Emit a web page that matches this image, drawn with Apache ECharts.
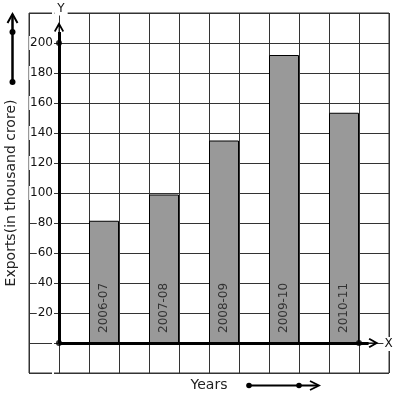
<!DOCTYPE html>
<html>
<head>
<meta charset="utf-8">
<script src="https://cdn.jsdelivr.net/npm/echarts@6/dist/echarts.min.js"></script>
<style>
  html, body { margin: 0; padding: 0; background: #fff; }
  #chart { width: 397px; height: 399px; }
</style>
</head>
<body>
<div id="chart"></div>
<script>
// data
const years = ['2006-07', '2007-08', '2008-09', '2009-10', '2010-11'];
const exportsValues = [81.5, 99, 135, 192, 153.5];
const yTickLabels = [20, 40, 60, 80, 100, 120, 140, 160, 180, 200];
const axisDots = [[0, 0], [0, 200], [10, 0]];

const font = 'DejaVu Sans';
// open chevron with a thin spine so its tip sits at the end of the axis line
const arrowHead = 'path://M5,0L10,9L8.6,10L5,3.6L1.4,10L0,9ZM4.6,3L5.4,3L5.4,20L4.6,20Z';

const chart = echarts.init(document.getElementById('chart'));

const barData = years.map((y, i) => ({ name: y, value: [1.5 + 2 * i, exportsValues[i]] }));

const option = {
  animation: false,
  backgroundColor: '#fff',
  grid: {
    left: 29, top: 13, width: 360, height: 360,
    show: true, borderColor: '#333', borderWidth: 1,
    outerBoundsMode: 'none'
  },
  xAxis: {
    type: 'value',
    min: -1, max: 11, interval: 1,
    offset: -30, // axis sits one cell above the grid bottom (at y = 0)
    name: 'Years',
    nameLocation: 'middle',
    nameGap: 35,
    nameTextStyle: { fontFamily: font, fontSize: 14, color: '#222' },
    axisLine: { show: false, onZero: false },
    axisTick: { show: false },
    axisLabel: { show: false },
    splitLine: { show: true, lineStyle: { color: '#333', width: 1 } }
  },
  yAxis: {
    type: 'value',
    min: -20, max: 220, interval: 20,
    offset: -30, // axis sits one cell right of the grid left (at x = 0)
    name: 'Exports(in thousand crore)',
    nameLocation: 'middle',
    nameGap: 41,
    nameTextStyle: { fontFamily: font, fontSize: 14, color: '#222' },
    axisLine: { show: false, onZero: false },
    axisTick: { show: false },
    axisLabel: {
      margin: 5,
      fontFamily: font, fontSize: 12, color: '#111',
      backgroundColor: '#fff', padding: [1, 1],
      formatter: v => (yTickLabels.includes(v) ? String(v) : '')
    },
    splitLine: { show: true, lineStyle: { color: '#333', width: 1 } }
  },
  series: [
    {
      type: 'bar',
      barWidth: 30,
      data: barData,
      itemStyle: { color: '#999999', borderColor: '#000', borderWidth: 1 },
      label: {
        show: true,
        position: 'insideBottom',
        distance: 10,
        rotate: 90,
        align: 'left',
        verticalAlign: 'middle',
        formatter: '{b}',
        fontFamily: font, fontSize: 12, color: '#333'
      },
      silent: true
    },
    {
      type: 'scatter',
      data: axisDots,
      symbol: 'circle',
      symbolSize: 6,
      itemStyle: { color: '#000' },
      silent: true,
      z: 5,
      markLine: {
        silent: true,
        animation: false,
        symbol: ['none', arrowHead],
        symbolSize: [10, 20],
        lineStyle: { color: '#000', width: 3, type: 'solid' },
        label: { show: false },
        emphasis: { disabled: true },
        data: [
          [{ coord: [0, 0] }, { coord: [0, 207.3] }],
          [{ coord: [0, 0] }, { coord: [10.32, 0] }]
        ]
      }
    }
  ],
  graphic: [
    // axis letters
    { type: 'text', z: 100, x: 61, y: 8.5, style: { text: 'Y', font: '12px DejaVu Sans', fill: '#111', align: 'center', verticalAlign: 'middle', backgroundColor: '#fff', padding: [1, 3] } },
    { type: 'text', z: 100, x: 388.5, y: 344, style: { text: 'X', font: '12px DejaVu Sans', fill: '#111', align: 'center', verticalAlign: 'middle', backgroundColor: '#fff', padding: [1, 1] } },
    // decorative arrow beside the y title
    { type: 'line', z: 100, shape: { x1: 12.5, y1: 82, x2: 12.5, y2: 14.5 }, style: { stroke: '#000', lineWidth: 2.5 } },
    { type: 'polyline', z: 100, shape: { points: [[7.5, 23], [12.5, 14], [17.5, 23]] }, style: { stroke: '#000', lineWidth: 2, fill: null } },
    { type: 'circle', z: 100, shape: { cx: 12.5, cy: 32, r: 3 }, style: { fill: '#000' } },
    { type: 'circle', z: 100, shape: { cx: 12.5, cy: 82, r: 3 }, style: { fill: '#000' } },
    // decorative arrow beside the x title
    { type: 'line', z: 100, shape: { x1: 249, y1: 385.5, x2: 318, y2: 385.5 }, style: { stroke: '#000', lineWidth: 2 } },
    { type: 'polyline', z: 100, shape: { points: [[310, 381], [319, 385.5], [310, 390]] }, style: { stroke: '#000', lineWidth: 1.8, fill: null } },
    { type: 'circle', z: 100, shape: { cx: 249, cy: 385.5, r: 2.8 }, style: { fill: '#000' } },
    { type: 'circle', z: 100, shape: { cx: 299, cy: 385.5, r: 2.8 }, style: { fill: '#000' } }
  ]
};

chart.setOption(option);
</script>
</body>
</html>
